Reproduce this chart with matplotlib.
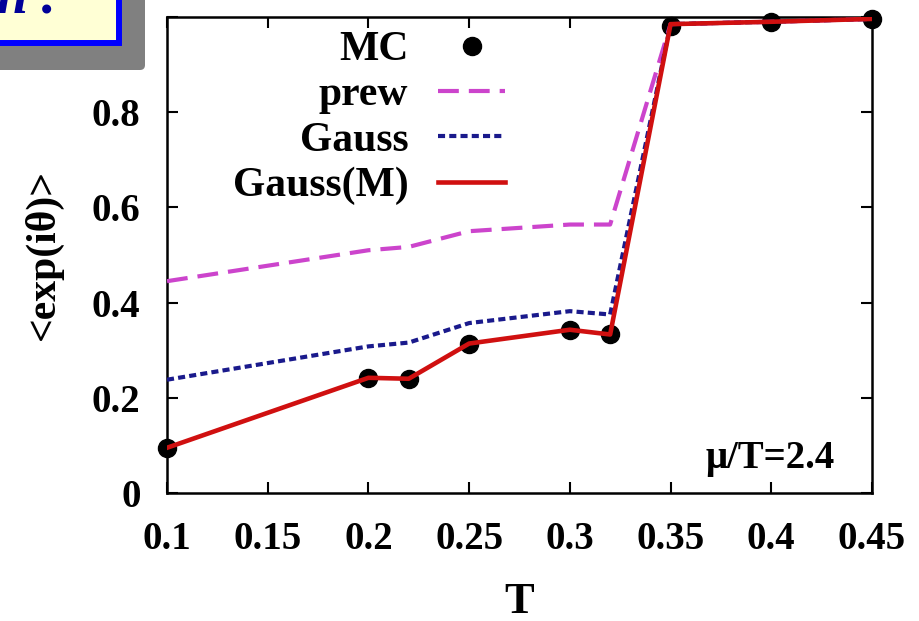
import matplotlib
matplotlib.use("Agg")
import matplotlib.pyplot as plt
from matplotlib.patches import Rectangle, FancyBboxPatch
from matplotlib.transforms import Affine2D

plt.rcParams['font.family'] = ['Liberation Serif', 'DejaVu Serif']
plt.rcParams['font.weight'] = 'bold'
plt.rcParams['axes.labelweight'] = 'bold'
plt.rcParams['mathtext.default'] = 'regular'

# ---- data ----
T = [0.10, 0.20, 0.22, 0.25, 0.30, 0.32, 0.35, 0.40, 0.45]
mc = [0.095, 0.242, 0.240, 0.314, 0.343, 0.333, 0.981, 0.990, 0.996]
prew = [0.445, 0.510, 0.517, 0.550, 0.564, 0.564, 0.985, 0.990, 0.996]
gauss = [0.238, 0.308, 0.316, 0.357, 0.382, 0.375, 0.985, 0.990, 0.996]
gauss_m = [0.095, 0.242, 0.240, 0.314, 0.343, 0.333, 0.985, 0.990, 0.996]

xticks = [0.1, 0.15, 0.2, 0.25, 0.3, 0.35, 0.4, 0.45]
xticklabels = ['0.1', '0.15', '0.2', '0.25', '0.3', '0.35', '0.4', '0.45']
yticks = [0, 0.2, 0.4, 0.6, 0.8, 1.0]
yticklabels = ['0', '0.2', '0.4', '0.6', '0.8', '1']

W, H = 919, 621
fig = plt.figure(figsize=(W / 100, H / 100), dpi=100)
fig.patch.set_facecolor('white')
ax = fig.add_axes([167 / W, (H - 493) / H, (872 - 167) / W, (493 - 17) / H])

ax.plot(T, mc, linestyle='none', marker='o', markersize=13, color='black',
        label='MC', clip_on=False, zorder=3)
ax.plot(T, prew, color='#cc44cc', lw=3, dashes=(5.0, 2.4), label='prew', zorder=4)
ax.plot(T, gauss, color='#1a1a8c', lw=3, dashes=(1.7, 1.0), label='Gauss', zorder=5)
ax.plot(T, gauss_m, color='#d01010', lw=3.3, label='Gauss(M)', zorder=6)

ax.set_xlim(0.1, 0.45)
ax.set_ylim(0, 1.0)
ax.set_xticks(xticks)
ax.set_xticklabels(xticklabels)
ax.set_yticks(yticks)
ax.set_yticklabels(yticklabels)
ax.tick_params(direction='in', length=8, width=1.5, top=True, right=True,
               labelsize=28, pad=20)
ax.tick_params(axis='y', pad=19)
for s in ax.spines.values():
    s.set_linewidth(1.8)

ax.set_xlabel('T', fontsize=32)
ax.xaxis.set_label_coords(0.5, -0.188)
ax.set_ylabel('<exp(iθ)>', fontsize=30)
ax.yaxis.set_label_coords(-0.147, 0.5)

ax.text((835 - 167) / 705, (493 - 468) / 476, 'μ/T=2.4', transform=ax.transAxes,
        ha='right', va='baseline', fontsize=28)

leg = ax.legend(loc='upper right', bbox_to_anchor=((505 - 167) / 705, (493 - 31) / 476),
                frameon=False, markerfirst=False, prop={'size': 30, 'weight': 'bold'},
                handlelength=1.6, handletextpad=0.72, labelspacing=0.17,
                borderpad=0, borderaxespad=0, numpoints=1)
for t in leg.get_texts():
    t.set_ha('right')

# ---- top-left decorative box (pixel coords, y downward) ----
pix = Affine2D().scale(1 / W, -1 / H).translate(0, 1) + fig.transFigure
shadow = FancyBboxPatch((-20, -20), 165, 90, boxstyle='round,pad=0,rounding_size=5',
                        transform=pix, facecolor='#808080', edgecolor='none', zorder=10)
fig.patches.append(shadow)
box = Rectangle((-20, -20), 139, 63, transform=pix, facecolor='#ffffd5',
                edgecolor='#0000ff', linewidth=4.3, zorder=11)
fig.patches.append(box)
fig.text(-3 / W, 1 - 13 / H, 'n .', fontsize=40, style='italic', weight='bold',
         color='#000099', ha='left', va='baseline', zorder=12)

fig.savefig('out.png', dpi=100)
